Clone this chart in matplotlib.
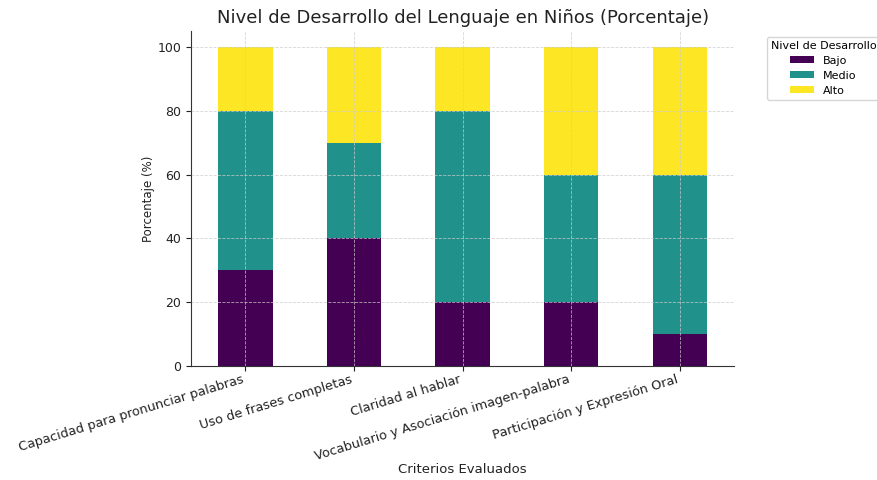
import matplotlib
matplotlib.use("Agg")
import matplotlib.pyplot as plt
import numpy as np

categories = ["Capacidad para pronunciar palabras", "Uso de frases completas",
              "Claridad al hablar", "Vocabulario y Asociación imagen-palabra",
              "Participación y Expresión Oral"]
bajo = [30, 40, 20, 20, 10]
medio = [50, 30, 60, 40, 50]
alto = [20, 30, 20, 40, 40]
series_names = ["Bajo", "Medio", "Alto"]
colors = ["#440154", "#21918c", "#fde725"]

plt.rcParams['font.family'] = ['DejaVu Sans']
fig = plt.figure(figsize=(8.77, 4.8), dpi=100)
ax = fig.add_axes([0.218, 0.2375, 0.619, 0.6975])

x = np.arange(len(categories))
bottom = np.zeros(len(categories))
for name, vals, c in zip(series_names, [bajo, medio, alto], colors):
    ax.bar(x, vals, 0.5, bottom=bottom, color=c, label=name)
    bottom += np.array(vals)

ax.set_xlim(-0.5, 4.5)
ax.set_ylim(0, 105)
ax.set_xticks(x)
ax.set_xticklabels(categories, rotation=17, ha='right', fontsize=9.3, color='#222222')
ax.tick_params(axis='y', labelsize=9, colors='#222222')
ax.tick_params(axis='x', colors='#222222', pad=1.5)
ax.set_yticks([0, 20, 40, 60, 80, 100])
ax.set_axisbelow(False)
ax.grid(True, linestyle='--', linewidth=0.6, color='#cccccc', alpha=0.8)
ax.spines['top'].set_visible(False)
ax.spines['right'].set_visible(False)
for s in ('left', 'bottom'):
    ax.spines[s].set_color('#333333')
ax.set_title("Nivel de Desarrollo del Lenguaje en Niños (Porcentaje)", fontsize=13, color='#222222')
ax.set_xlabel("Criterios Evaluados", fontsize=9.5, color='#222222', labelpad=0)
ax.set_ylabel("Porcentaje (%)", fontsize=8.5, color='#222222', labelpad=2)
leg = ax.legend(title="Nivel de Desarrollo", bbox_to_anchor=(1.05, 1), loc='upper left',
                fontsize=8, title_fontsize=8, labelspacing=0.45, borderpad=0.35,
                handleheight=0.6, handlelength=2.2)
fig.savefig("out.png", dpi=100)
